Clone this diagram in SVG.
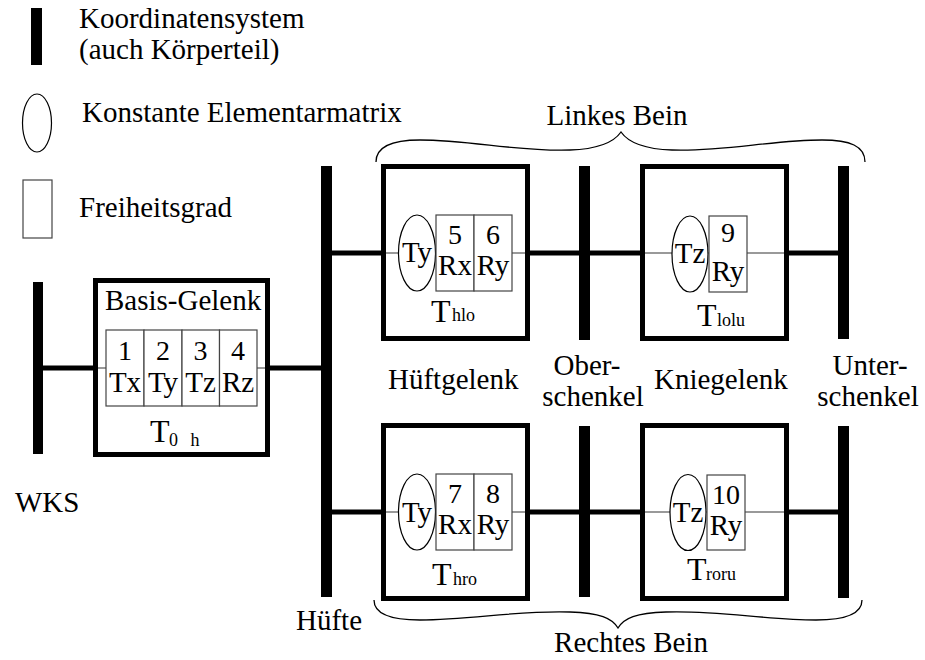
<svg xmlns="http://www.w3.org/2000/svg" width="925" height="660" viewBox="0 0 925 660">
  <style>
    text { font-family: 'Liberation Serif', 'Times New Roman', serif; fill: #000; }
    .lbl { font-size: 29px; }
    .dof { font-size: 29px; text-anchor: middle; }
    .num { font-size: 28px; text-anchor: middle; }
    .tbig { font-size: 32px; }
    .sub { font-size: 18px; }
    .bar { fill: #000; }
    .frame { fill: none; stroke: #000; stroke-width: 5; }
    .cell { fill: #fff; stroke: #444; stroke-width: 1.2; }
    .const { fill: #fff; stroke: #000; stroke-width: 1.2; }
    .axis { stroke: #777; stroke-width: 1.5; }
    .link { stroke: #000; stroke-width: 5; fill: none; }
    .brace { fill: none; stroke: #000; stroke-width: 1.3; }
  </style>

  <!-- Legend -->
  <g id="legend">
    <rect class="bar" x="31" y="8" width="11" height="57"/>
    <text class="lbl" x="79" y="28">Koordinatensystem</text>
    <text class="lbl" x="79" y="59">(auch Körperteil)</text>
    <ellipse class="const" cx="37" cy="123" rx="14.5" ry="29"/>
    <text class="lbl" x="82" y="122">Konstante Elementarmatrix</text>
    <rect class="cell" x="23" y="180" width="29" height="58"/>
    <text class="lbl" x="79" y="217">Freiheitsgrad</text>
  </g>

  <!-- Connectors -->
  <g id="connectors">
    <line class="link" x1="43" y1="368" x2="93" y2="368"/>
    <line class="link" x1="270" y1="368" x2="321" y2="368"/>
    <line class="link" x1="332" y1="253" x2="381" y2="253"/>
    <line class="link" x1="530" y1="253" x2="640" y2="253"/>
    <line class="link" x1="789" y1="253" x2="838" y2="253"/>
    <line class="link" x1="332" y1="512" x2="381" y2="512"/>
    <line class="link" x1="530" y1="512" x2="640" y2="512"/>
    <line class="link" x1="789" y1="512" x2="838" y2="512"/>
  </g>

  <!-- Coordinate systems (body parts) -->
  <g id="wks">
    <rect class="bar" x="33" y="282" width="10" height="172"/>
    <text class="lbl" x="15" y="512">WKS</text>
  </g>
  <g id="huefte">
    <rect class="bar" x="321" y="166" width="11" height="431"/>
    <text class="lbl" x="296" y="630">Hüfte</text>
  </g>
  <g id="oberschenkel">
    <rect class="bar" x="579" y="166" width="11" height="174"/>
    <rect class="bar" x="579" y="426" width="11" height="171"/>
    <text class="lbl" x="587" y="375" text-anchor="middle">Ober-</text>
    <text class="lbl" x="593" y="406" text-anchor="middle">schenkel</text>
  </g>
  <g id="unterschenkel">
    <rect class="bar" x="838" y="166" width="11" height="173"/>
    <rect class="bar" x="838" y="426" width="11" height="172"/>
    <text class="lbl" x="870" y="375" text-anchor="middle">Unter-</text>
    <text class="lbl" x="868" y="406" text-anchor="middle">schenkel</text>
  </g>

  <!-- Base joint T0h -->
  <g id="basis-gelenk">
    <rect class="frame" x="95.5" y="280.5" width="172" height="174"/>
    <text class="lbl" x="105" y="310">Basis-Gelenk</text>
    <line class="axis" x1="98" y1="368" x2="265" y2="368"/>
    <rect class="cell" x="106" y="330" width="38" height="76"/>
    <rect class="cell" x="144" y="330" width="38" height="76"/>
    <rect class="cell" x="182" y="330" width="37.5" height="76"/>
    <rect class="cell" x="219.5" y="330" width="37.5" height="76"/>
    <text class="num" x="125" y="360">1</text>
    <text class="num" x="163" y="360">2</text>
    <text class="num" x="200.5" y="360">3</text>
    <text class="num" x="238" y="360">4</text>
    <text class="dof" x="125" y="392">Tx</text>
    <text class="dof" x="163" y="392">Ty</text>
    <text class="dof" x="200.5" y="392">Tz</text>
    <text class="dof" x="238" y="392">Rz</text>
    <text class="tbig" x="150" y="442" font-size="30">T</text>
    <text class="sub" x="169" y="446" font-size="14" word-spacing="8">0 h</text>
  </g>

  <!-- Left hip joint -->
  <g id="t-hlo">
    <rect class="frame" x="383.5" y="166.5" width="144" height="172"/>
    <line class="axis" x1="386" y1="253" x2="525" y2="253"/>
    <ellipse class="const" cx="417" cy="253" rx="18.5" ry="38"/>
    <rect class="cell" x="436" y="215" width="38" height="76"/>
    <rect class="cell" x="474" y="215" width="38" height="76"/>
    <text class="lbl" x="417" y="262" text-anchor="middle">Ty</text>
    <text class="num" x="455" y="244">5</text>
    <text class="num" x="493" y="244">6</text>
    <text class="dof" x="455" y="275">Rx</text>
    <text class="dof" x="493" y="275">Ry</text>
    <text class="tbig" x="431" y="322">T</text>
    <text class="sub" x="452" y="321">hlo</text>
  </g>

  <!-- Left knee joint -->
  <g id="t-lolu">
    <rect class="frame" x="642.5" y="166.5" width="144" height="172"/>
    <line class="axis" x1="645" y1="253" x2="784" y2="253"/>
    <ellipse class="const" cx="690" cy="254" rx="18" ry="38"/>
    <rect class="cell" x="709" y="216" width="38" height="76"/>
    <text class="lbl" x="690" y="263" text-anchor="middle">Tz</text>
    <text class="num" x="728" y="242">9</text>
    <text class="dof" x="728" y="281">Ry</text>
    <text class="tbig" x="697" y="326">T</text>
    <text class="sub" x="717" y="326">lolu</text>
  </g>

  <!-- Right hip joint -->
  <g id="t-hro">
    <rect class="frame" x="383.5" y="425.5" width="144" height="173"/>
    <line class="axis" x1="386" y1="512" x2="525" y2="512"/>
    <ellipse class="const" cx="417" cy="512" rx="18.5" ry="38"/>
    <rect class="cell" x="436" y="474" width="38" height="76"/>
    <rect class="cell" x="474" y="474" width="38" height="76"/>
    <text class="lbl" x="417" y="522" text-anchor="middle">Ty</text>
    <text class="num" x="455" y="503">7</text>
    <text class="num" x="493" y="503">8</text>
    <text class="dof" x="455" y="534">Rx</text>
    <text class="dof" x="493" y="534">Ry</text>
    <text class="tbig" x="432" y="585">T</text>
    <text class="sub" x="453" y="585">hro</text>
  </g>

  <!-- Right knee joint -->
  <g id="t-roru">
    <rect class="frame" x="642.5" y="425.5" width="144" height="173"/>
    <line class="axis" x1="645" y1="512" x2="784" y2="512"/>
    <ellipse class="const" cx="688" cy="512.5" rx="18" ry="38"/>
    <rect class="cell" x="707" y="475" width="38" height="75"/>
    <text class="lbl" x="688" y="522" text-anchor="middle">Tz</text>
    <text class="num" x="726" y="504">10</text>
    <text class="dof" x="726" y="535">Ry</text>
    <text class="tbig" x="687" y="580">T</text>
    <text class="sub" x="706" y="580">roru</text>
  </g>

  <!-- Joint labels -->
  <g id="gelenke">
    <text class="lbl" x="388" y="389">Hüftgelenk</text>
    <text class="lbl" x="654" y="389">Kniegelenk</text>
  </g>

  <!-- Leg braces -->
  <g id="linkes-bein">
    <path class="brace" d="M376,162 C376,146 392,140 420,140 C470,140 520,152 570,150 C600,149 614,142 621,132 C628,142 642,149 672,150 C722,152 772,140 822,140 C850,140 865,146 865,162"/>
    <text class="lbl" x="617" y="125" text-anchor="middle">Linkes Bein</text>
  </g>
  <g id="rechtes-bein">
    <path class="brace" d="M374,600 C374,614 390,620 420,620 C470,620 520,610 570,612 C600,613 612,618 618,628 C624,618 636,613 666,612 C716,610 766,620 816,620 C846,620 862,614 862,600"/>
    <text class="lbl" x="631" y="652" text-anchor="middle">Rechtes Bein</text>
  </g>
</svg>
